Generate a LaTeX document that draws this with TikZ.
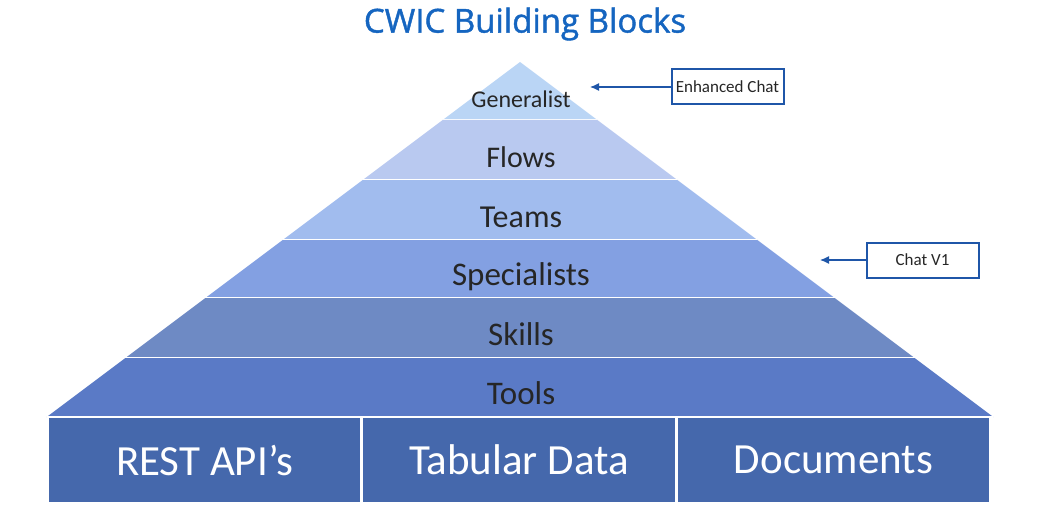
\documentclass[tikz,border=0pt]{standalone}
\usepackage{fontspec}
\setmainfont{Carlito}
\newfontfamily\titlefont[FakeBold=1.3]{Open Sans}
\usetikzlibrary{arrows.meta, positioning}
\definecolor{titleblue}{RGB}{21, 101, 192}
\definecolor{calloutblue}{RGB}{31, 86, 168}
\definecolor{lay1}{RGB}{186, 213, 245}
\definecolor{lay2}{RGB}{185, 201, 240}
\definecolor{lay3}{RGB}{161, 188, 238}
\definecolor{lay4}{RGB}{131, 160, 226}
\definecolor{lay5}{RGB}{110, 138, 196}
\definecolor{lay6}{RGB}{90, 122, 198}
\definecolor{basefill}{RGB}{69, 104, 172}
\definecolor{labeltext}{RGB}{38, 38, 38}

\begin{document}
\begin{tikzpicture}[x=1pt, y=-1pt,
    layer/.style={draw=white, line width=1.2pt},
    basebox/.style={fill=basefill, draw=white, line width=1.5pt, minimum width=313pt,
        minimum height=85pt, inner sep=0pt, text=white, font=\fontsize{43}{45}\selectfont},
    callout/.style={draw=calloutblue, line width=2pt, fill=white, inner sep=0pt,
        minimum width=112pt, minimum height=35pt, font=\fontsize{17}{19}\selectfont, text=labeltext},
    pointer/.style={-{Latex[length=9pt, width=8pt]}, calloutblue, line width=1.2pt}]
    \useasboundingbox (0,0) rectangle (1051,508);

    % title
    \node[titleblue, font=\titlefont\fontsize{33}{36}\selectfont] (title) at (525,24) {CWIC Building Blocks};

    % pyramid layers: top y / bottom y / colour / label / size
    \foreach \ya/\yb/\col/\txt/\fs [count=\i] in {62/120/lay1/Generalist/24, 120/180/lay2/Flows/30,
        180/240/lay3/Teams/32, 240/298/lay4/Specialists/33, 298/358/lay5/Skills/33, 358/417/lay6/Tools/33} {
        \pgfmathsetmacro{\xa}{(\ya-62)*1.3333}
        \pgfmathsetmacro{\xb}{(\yb-62)*1.3333}
        \fill[\col] (520-\xa,\ya) -- (520+\xa,\ya) -- (520+\xb,\yb) -- (520-\xb,\yb) -- cycle;
        \draw[layer] (520-\xb,\yb) -- (520+\xb,\yb);
        \node[text=labeltext, font=\fontsize{\fs}{\fs}\selectfont, anchor=base] (lay\i) at (521,\yb-13) {\txt};
    }

    % base boxes
    \node[basebox] (rest) at (204.5,460) {REST API’s};
    \node[basebox, right=0pt of rest] (tab) {Tabular Data};
    \node[basebox, right=0pt of tab] (docs) {Documents};

    % callouts
    \node[callout] (enh) at (727.5,87) {Enhanced Chat};
    \coordinate (enhtip) at (590,87);
    \draw[pointer] (enh.west) -- (enhtip);
    \node[callout] (chat) at (922.5,260) {Chat V1};
    \coordinate (chattip) at (820,260);
    \draw[pointer] (chat.west) -- (chattip);
\end{tikzpicture}
\end{document}
